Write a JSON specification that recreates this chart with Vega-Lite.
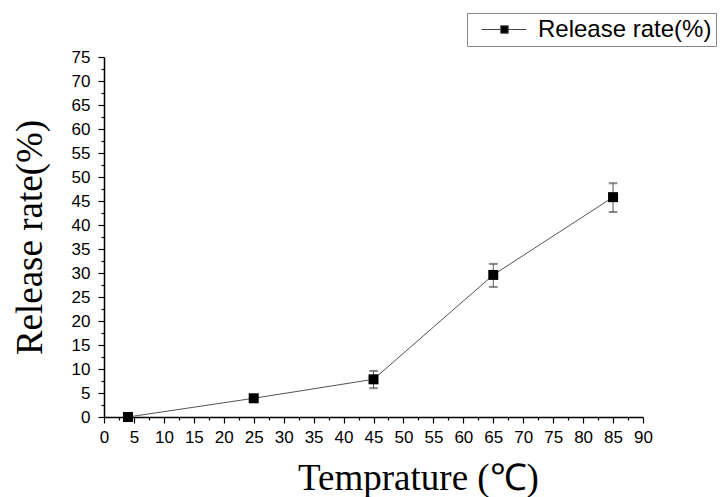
{
  "$schema": "https://vega.github.io/schema/vega-lite/v6.json",
  "autosize": {"type": "none"},
  "width": 539,
  "height": 360,
  "padding": {"left": 104, "top": 57, "right": 80, "bottom": 80},
  "background": "white",
  "config": {
    "view": {"stroke": null},
    "axis": {"grid": false, "domainColor": "black", "tickColor": "black", "labelColor": "black", "titleColor": "black", "labelFont": "Liberation Sans", "labelFontSize": 17, "titleFont": "Liberation Serif", "titleFontSize": 37, "titleFontWeight": "normal", "tickSize": 6, "domainWidth": 1.5, "tickWidth": 1.2}
  },
  "data": {"values": [
    {"T": 4, "R": 0.0, "lo": 0.0, "hi": 0.0, "s": "Release rate(%)"},
    {"T": 25, "R": 3.9, "lo": 3.6, "hi": 4.2, "s": "Release rate(%)"},
    {"T": 45, "R": 7.85, "lo": 6.0, "hi": 9.6, "s": "Release rate(%)"},
    {"T": 65, "R": 29.6, "lo": 27.1, "hi": 31.9, "s": "Release rate(%)"},
    {"T": 85, "R": 45.8, "lo": 42.7, "hi": 48.7, "s": "Release rate(%)"}
  ]},
  "resolve": {"axis": {"x": "independent", "y": "independent"}},
  "layer": [
    {
      "mark": {"type": "rule", "stroke": "#555", "strokeWidth": 1},
      "encoding": {
        "x": {"field": "T", "type": "quantitative", "scale": {"domain": [0, 90], "nice": false}, "axis": {"orient": "bottom", "values": [2.5,7.5,12.5,17.5,22.5,27.5,32.5,37.5,42.5,47.5,52.5,57.5,62.5,67.5,72.5,77.5,82.5,87.5], "labels": false, "title": null, "tickSize": 3, "domain": false}},
        "y": {"field": "lo", "type": "quantitative", "scale": {"domain": [0, 75], "nice": false}, "axis": {"orient": "left", "values": [2.5,7.5,12.5,17.5,22.5,27.5,32.5,37.5,42.5,47.5,52.5,57.5,62.5,67.5,72.5], "labels": false, "title": null, "tickSize": 3, "domain": false}},
        "y2": {"field": "hi"}
      }
    },
    {
      "mark": {"type": "tick", "orient": "horizontal", "stroke": "#555", "size": 8, "thickness": 1},
      "encoding": {
        "x": {"field": "T", "type": "quantitative", "axis": null},
        "y": {"field": "hi", "type": "quantitative", "axis": null}
      }
    },
    {
      "mark": {"type": "tick", "orient": "horizontal", "stroke": "#555", "size": 8, "thickness": 1},
      "encoding": {
        "x": {"field": "T", "type": "quantitative", "axis": null},
        "y": {"field": "lo", "type": "quantitative", "axis": null}
      }
    },
    {
      "mark": {"type": "line", "stroke": "#555", "strokeWidth": 1},
      "encoding": {
        "x": {"field": "T", "type": "quantitative", "axis": {"orient": "bottom", "values": [0,5,10,15,20,25,30,35,40,45,50,55,60,65,70,75,80,85,90], "title": "Temprature (℃)", "labelPadding": 6, "titlePadding": 15, "titleX": 314, "titleAlign": "center", "labelFlush": false}},
        "y": {"field": "R", "type": "quantitative", "axis": {"orient": "left", "values": [0,5,10,15,20,25,30,35,40,45,50,55,60,65,70,75], "title": "Release rate(%)", "labelPadding": 8, "titlePadding": 22}}
      }
    },
    {
      "mark": {"type": "point", "filled": true, "shape": "square", "size": 100, "opacity": 1},
      "encoding": {
        "x": {"field": "T", "type": "quantitative", "axis": null},
        "y": {"field": "R", "type": "quantitative", "axis": null},
        "color": {"field": "s", "type": "nominal", "scale": {"range": ["black"]}, "legend": {"title": null, "orient": "none", "legendX": 363, "legendY": -44, "symbolType": "M-0.17,0H1.44M2.06,0H3.58M1.44,-0.31H2.06V0.31H1.44Z", "symbolSize": 576, "symbolStrokeColor": "#444", "symbolStrokeWidth": 1, "symbolFillColor": "black", "labelFont": "Liberation Sans", "labelFontSize": 24, "labelColor": "black", "labelOffset": 42, "strokeColor": "#888", "padding": 4, "fillColor": "white", "labelLimit": 400}}
      }
    }
  ]
}
